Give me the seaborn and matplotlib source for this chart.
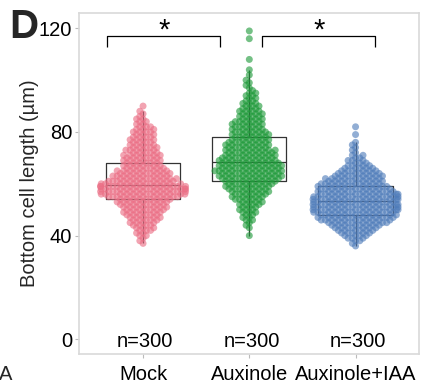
import numpy as np
import pandas as pd
import matplotlib
matplotlib.use("Agg")
import matplotlib.pyplot as plt
import seaborn as sns

groups = ["Mock", "Auxinole", "Auxinole+IAA"]

mock_values = [37, 38, 39, 40, 41, 42, 43, 44, 45, 46, 47, 48, 49, 50, 51, 52, 53, 54,
               55, 56, 57, 58, 59, 60, 61, 62, 63, 64, 65, 66, 67, 68,
               69, 70, 71, 72, 73, 74, 75, 76, 77, 78, 79, 80, 81, 82, 83, 84, 85,
               86, 87, 88, 90]
mock_counts = [1, 1, 1, 2, 2, 3, 3, 4, 4, 5, 5, 6, 6, 7, 7, 8, 8, 9,
               12, 13, 14, 14, 15, 12, 11, 10, 9, 9, 8, 7, 6, 6,
               6, 6, 6, 5, 5, 5, 4, 4, 4, 4, 3, 4, 3, 3, 2, 2, 2,
               1, 1, 1, 1]

aux_values = [40, 43, 44, 45, 46, 47, 48, 49, 50, 51, 52, 53, 54, 55, 56, 57, 58, 59, 60, 61,
              62, 63, 64, 65, 66, 67, 68,
              69, 70, 71, 72, 73, 74, 75, 76, 77, 78,
              79, 80, 81, 82, 83, 84, 85, 86, 87, 88, 89, 90, 91, 92, 93, 94, 95, 96,
              97, 98, 99, 100, 102, 104, 108, 116, 119]
aux_counts = [1, 1, 1, 1, 2, 2, 2, 3, 3, 3, 4, 4, 5, 5, 6, 6, 7, 7, 8, 8,
              10, 10, 10, 11, 10, 10, 10,
              9, 9, 8, 8, 8, 7, 7, 7, 6, 6,
              6, 6, 5, 5, 5, 5, 4, 4, 4, 4, 3, 3, 3, 2, 2, 2, 2, 1,
              1, 1, 1, 1, 1, 1, 1, 1, 1]

iaa_values = [36, 37, 38, 39, 40, 41, 42, 43, 44, 45, 46, 47, 48,
              49, 50, 51, 52, 53, 54, 55, 56, 57, 58, 59,
              60, 61, 62, 63, 64, 65, 66, 67, 68, 69, 70, 71, 72, 73, 74, 75, 76, 79, 82]
iaa_counts = [1, 1, 2, 3, 4, 5, 6, 7, 8, 10, 11, 12, 12,
              13, 14, 14, 14, 13, 14, 14, 13, 12, 11, 11,
              10, 9, 9, 8, 7, 6, 5, 4, 3, 3, 2, 2, 1, 1, 1, 1, 1, 1, 1]

colors = ["#EB6D84", "#1F9A3A", "#4F7CBA"]
yticks = [0, 40, 80, 120]

# significance brackets: (x_left, x_right, label)
brackets = [(-0.338, 0.727, "*"), (1.122, 2.187, "*")]

# ---- build long table ----
frames = []
for g, v, c in zip(groups,
                   [mock_values, aux_values, iaa_values],
                   [mock_counts, aux_counts, iaa_counts]):
    frames.append(pd.DataFrame({"group": g, "value": np.repeat(v, c).astype(float)}))
df = pd.concat(frames, ignore_index=True)
palette = dict(zip(groups, colors))

sns.set_theme(style="white")
plt.rcParams["font.family"] = ["Liberation Sans", "DejaVu Sans"]

fig = plt.figure(figsize=(4.28, 3.86), dpi=100)
ax = fig.add_axes([0.1853, 0.0829, 0.7944, 0.8826])

XLIM = (-0.6, 2.6)
YLIM = (-5.7, 125.8)

sns.boxplot(data=df, x="group", y="value", order=groups, fill=False,
            color="#333333", width=0.7, linewidth=0.9, showfliers=False,
            whis=1.5, capprops={"visible": False}, ax=ax)
ax.set_xlim(*XLIM)
ax.set_ylim(*YLIM)

LAYOUT_SIZE = 2.9
FINAL_SIZE = 5.0
sns.swarmplot(data=df, x="group", y="value", hue="group", order=groups,
              hue_order=groups, palette=palette, size=LAYOUT_SIZE, alpha=0.62,
              linewidth=0, legend=False, ax=ax, zorder=3)
# freeze the computed swarm layout, then draw with bigger (overlapping) markers
for coll in ax.collections:
    if "draw" in coll.__dict__:
        del coll.draw
        coll.set_sizes([FINAL_SIZE ** 2])

ax.set_xlim(*XLIM)
ax.set_ylim(*YLIM)
ax.set_yticks(yticks)
ax.set_xlabel("")
ax.set_ylabel("Bottom cell length (µm)", fontsize=14.5)
ax.yaxis.set_label_coords(-0.118, 0.5)

for s in ax.spines.values():
    s.set_visible(True)
    s.set_color("#d9d9d9")
    s.set_linewidth(1.2)
ax.tick_params(axis="both", length=3, width=0.8, color="#bbbbbb",
               labelsize=14.5, labelcolor="black", left=True, bottom=True)
ax.tick_params(axis="y", pad=2)
ax.tick_params(axis="x", pad=5)

# n labels
for i, g in enumerate(groups):
    n = int((df["group"] == g).sum())
    ax.text(i + 0.02, -2.9, f"n={n}", ha="center", va="baseline", fontsize=14.5,
            color="black")

# brackets
for x0, x1, lab in brackets:
    ax.plot([x0, x0, x1, x1], [112.7, 117.0, 117.0, 112.7], color="black",
            lw=0.9, solid_capstyle="butt", clip_on=False)
    ax.text((x0 + x1) / 2, 116.0, lab, ha="center", va="baseline",
            fontsize=21, color="black")

fig.text(9 / 428, (386 - 38) / 386, "D", fontsize=29, fontweight="bold",
         ha="left", va="baseline")
fig.text(-1 / 428, (386 - 380) / 386, "A", fontsize=14.5, ha="left",
         va="baseline")

fig.savefig("out.png", dpi=100)
